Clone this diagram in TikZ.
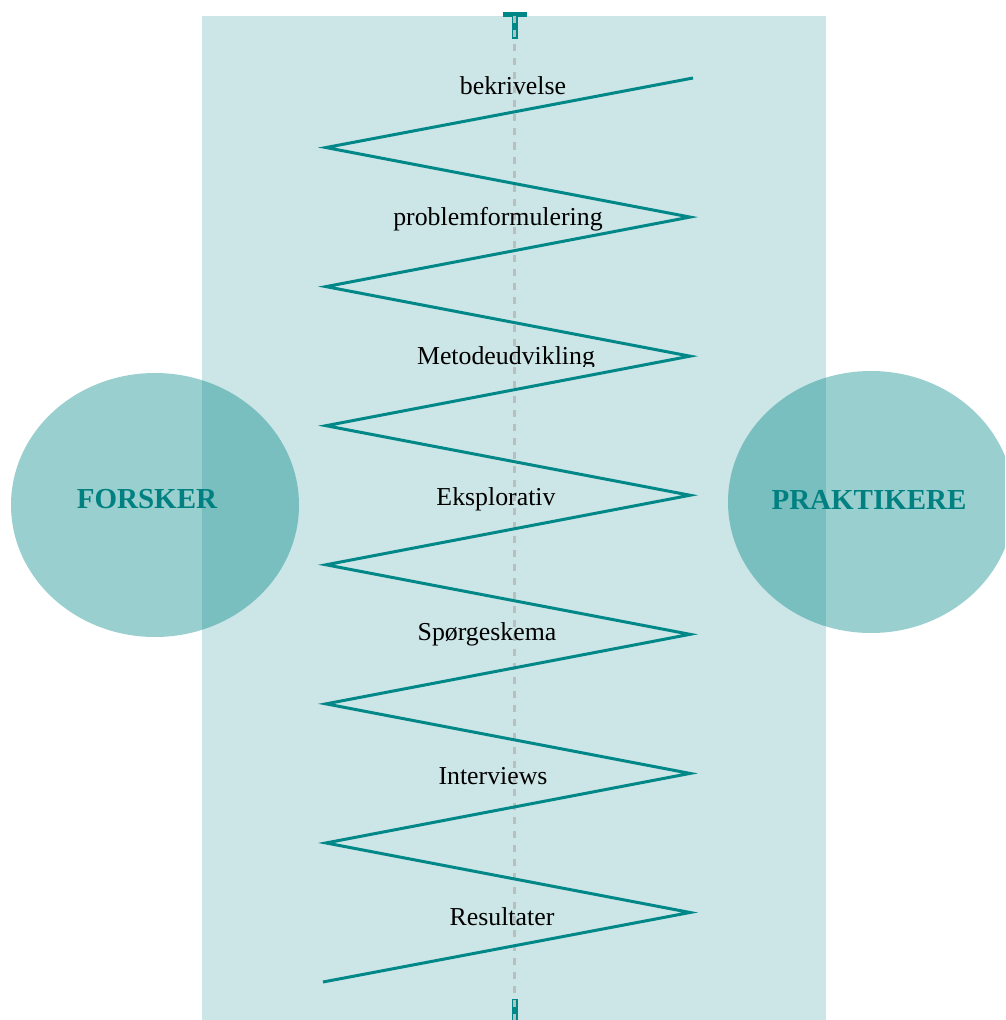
\documentclass[tikz,border=0pt]{standalone}
\usepackage{fontspec}
\setmainfont{Liberation Serif}
\definecolor{tealline}{RGB}{0,135,135}
\definecolor{tealtext}{RGB}{0,128,128}
\definecolor{panelbg}{RGB}{204,229,230}
\definecolor{dashgray}{RGB}{185,190,190}
\tikzset{
    stage/.style={anchor=base, font=\fontsize{14.7}{16}\selectfont, text=black, inner sep=0pt},
    actor/.style={tealline, opacity=0.4},
    role/.style={anchor=base, font=\fontsize{16.5}{18}\selectfont\bfseries, text=tealtext, inner sep=0pt},
    zigzag/.style={tealline, line width=1.7pt, line join=miter},
}
\begin{document}
\begin{tikzpicture}[x=0.02cm, y=-0.02cm]
    % Frame
    \clip (0,0) rectangle (1005,1020);
    \useasboundingbox (0,0) rectangle (1005,1020);

    % Background panel
    \fill[panelbg] (202,16) rectangle (826,1020);

    % Actors
    \fill[actor] (155,505) ellipse [x radius=144, y radius=132];
    \fill[actor] (871,502) ellipse [x radius=143, y radius=131];
    \node[role] (forsker) at (147,508) {FORSKER};
    \node[role] (praktikere) at (869,509) {PRAKTIKERE};

    % Start and end markers
    \fill[tealline] (503,12) rectangle (527,17);
    \fill[tealline] (511.5,12) rectangle (517.5,39);
    \fill[tealline] (511.5,999) rectangle (517.5,1020);

    % Centre line
    \coordinate (top) at (514.5,16);
    \coordinate (bottom) at (514.5,1020);
    \draw[dashgray, line width=1.2pt, dash pattern=on 4pt off 4pt] (top) -- (bottom);

    % Zigzag
    \foreach \i in {0,...,13} {
        \pgfmathsetmacro{\zx}{mod(\i,2)==0 ? 690 : 326}
        \coordinate (z\i) at (\zx, 78+69.54*\i);
    }
    \coordinate (z0) at (693,78);
    \coordinate (z13) at (323,982);
    \draw[zigzag] (z0) \foreach \i in {1,...,13} { -- (z\i) };

    % Stages
    \node[stage] (s1) at (513,95) {bekrivelse};
    \node[stage] (s2) at (498,226) {problemformulering};
    \begin{scope}
        \clip (400,330) rectangle (640,366);
        \node[stage] (s3) at (506,364) {Metodeudvikling};
    \end{scope}
    \node[stage] (s4) at (496,505) {Eksplorativ};
    \node[stage] (s5) at (487,640) {Spørgeskema};
    \node[stage] (s6) at (493,784) {Interviews};
    \node[stage] (s7) at (502,925) {Resultater};
\end{tikzpicture}
\end{document}
